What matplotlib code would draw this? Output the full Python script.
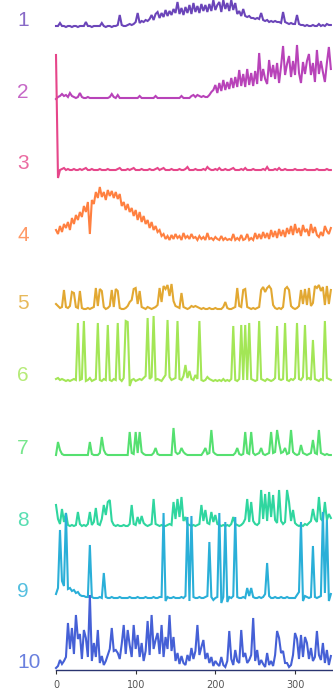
"""Stacked activity traces of ten cells (rows 1-10) over time."""
import numpy as np
import matplotlib
matplotlib.use("Agg")
import matplotlib.pyplot as plt

# ------------------------------------------------------------------ data
# one value every 2.5 time units, starting at t = 0 (heights above baseline)
STEP = 2.5

cell_1 = [1, 1, 4, 1, 1, 0, 1, 1, 0, 1, 1, 0, 1, 1, 1,
          5, 1, 1, 0, 1, 1, 1, 1, 4, 1, 0, 1, 1, 0, 1, 1, 2,
          12, 2, 1, 1, 2, 3, 2, 3, 5, 14, 4, 6, 5, 7, 6,
          8, 12, 7, 13, 15, 9, 14, 10, 17, 11, 16, 12, 18, 14, 25,
          13, 19, 12, 20, 14, 22, 13, 24, 15, 21, 14, 23, 16, 22,
          15, 23, 16, 27, 17, 22, 25, 15, 27, 18, 24, 16, 27, 17, 24,
          13, 16, 11, 18, 11, 10, 11, 9, 9, 8, 9, 8, 14, 7,
          6, 7, 5, 6, 5, 6, 5, 5, 4, 15, 5, 4, 3, 4, 3, 3, 12, 3,
          2, 2, 1, 2, 1, 1, 2, 1, 1, 3, 1, 2, 1, 3, 2, 2]

cell_2 = [0, 2, 3, 5, 3, 4, 2, 6, 3, 2,
          1, 2, 6, 2, 1, 1, 2, 1, 1, 1,
          1, 1, 1, 1, 1, 1, 1, 2, 5, 2,
          1, 4, 1, 1, 1, 1, 1, 1, 1, 1,
          1, 1, 3, 1, 1, 1, 1, 1, 1, 1,
          3, 1, 1, 1, 1, 1, 1, 1, 1, 1,
          1, 1, 1, 3, 1, 1, 1, 1, 3, 4,
          2, 4, 3, 2, 3, 2, 2, 4, 7, 9,
          14, 6, 16, 8, 19, 9, 17, 10, 21, 11,
          22, 12, 29, 13, 25, 12, 30, 14, 26, 13,
          28, 15, 46, 18, 30, 20, 15, 39, 22, 34,
          20, 36, 16, 33, 53, 24, 35, 43, 22, 38,
          24, 54, 26, 16, 37, 25, 38, 45, 24, 36,
          17, 49, 25, 38, 27, 17, 36, 52, 30]

cell_3 = [115, -8, 0, 1, 2, 0, 1, 0, 0, 1,
          0, 0, 1, 0, 1, 2, 0, 0, 1, 0,
          0, 0, 1, 0, 0, 0, 1, 0, 0, 0,
          0, 1, 2, 0, 0, 0, 1, 0, 1, 2,
          0, 0, 0, 1, 0, 0, 0, 1, 0, 0,
          1, 2, 0, 1, 2, 0, 0, 0, 1, 0,
          0, 0, 1, 0, 0, 1, 3, 0, 0, 0,
          1, 0, 0, 0, 1, 0, 3, 1, 0, 0,
          1, 0, 2, 0, 0, 1, 0, 0, 1, 2,
          0, 0, 0, 1, 0, 2, 0, 0, 0, 1,
          0, 0, 0, 0, 1, 0, 3, 0, 0, 0,
          1, 0, 2, 0, 0, 1, 0, 0, 0, 0,
          1, 0, 0, 0, 0, 1, 0, 0, 0, 0,
          0, 1, 0, 0, 0, 0, 1, 0, 0]

cell_4 = [12, 8, 16, 10, 18, 14, 20, 12, 24, 18,
          27, 22, 30, 25, 36, 30, 40, 8, 42, 38,
          50, 44, 55, 45, 50, 42, 52, 46, 51, 44,
          50, 43, 48, 36, 40, 32, 38, 30, 34, 26,
          32, 22, 30, 20, 26, 18, 22, 14, 20, 12,
          16, 10, 12, 6, 8, 3, 6, 2, 7, 3,
          8, 4, 6, 2, 9, 4, 6, 3, 8, 4,
          5, 2, 6, 3, 5, 2, 9, 3, 4, 2,
          5, 3, 2, 6, 2, 4, 2, 3, 2, 8,
          2, 4, 2, 7, 2, 3, 8, 2, 4, 2,
          9, 3, 8, 3, 10, 4, 9, 3, 12, 5,
          11, 4, 13, 6, 12, 5, 14, 8, 16, 7,
          18, 9, 14, 6, 17, 10, 13, 6, 18, 9,
          15, 7, 5, 10, 6, 16, 11, 8, 14]

cell_5 = [6, 4, 2, 3, 20, 3, 2, 4, 18, 17,
          3, 2, 19, 2, 1, 1, 2, 1, 2, 3,
          22, 4, 21, 19, 3, 1, 2, 4, 20, 3,
          21, 19, 2, 1, 1, 2, 4, 8, 10, 21,
          22, 6, 19, 3, 2, 1, 3, 2, 1, 2,
          3, 5, 22, 8, 24, 21, 25, 14, 26, 9,
          4, 3, 2, 17, 3, 2, 1, 2, 4, 3,
          4, 3, 2, 1, 2, 1, 1, 2, 1, 1,
          2, 1, 1, 1, 3, 8, 2, 1, 1, 2,
          3, 22, 4, 3, 20, 21, 3, 2, 1, 2,
          1, 2, 3, 20, 23, 18, 22, 24, 21, 5,
          2, 1, 2, 1, 3, 21, 23, 20, 4, 2,
          1, 2, 4, 20, 6, 21, 5, 22, 4, 7,
          24, 22, 25, 19, 23, 5, 24, 6, 20]

cell_6 = [3, 4, 2, 3, 2, 1, 2, 1, 2, 3,
          2, 59, 2, 3, 61, 1, 2, 4, 1, 2,
          3, 59, 2, 1, 3, 2, 57, 2, 1, 3,
          2, 59, 3, 1, 4, 61, 60, -4, 2, 3,
          1, 2, 3, 2, 4, 6, 64, 3, 5, 66,
          2, 3, 2, 1, 4, 7, 62, 5, 2, 3,
          4, 61, 3, 2, 6, 17, 4, 11, 3, 2,
          7, 3, 61, 2, 1, 2, 5, 3, 2, 1,
          2, 1, 2, 1, 3, 1, 2, 1, 3, 56,
          2, 1, 3, 57, 2, 57, 2, 59, 3, 2,
          1, 2, 61, 3, 2, 1, 3, 2, 1, 2,
          4, 56, 3, 2, 3, 59, 2, 1, 3, 2,
          4, 59, 3, 2, 5, 57, 3, 4, 2, 42,
          3, 2, 1, 3, 2, 61, 4, 3, 2]

cell_7 = [0, 13, 5, 1, 0, 0, 0, 0, 0, 0,
          0, 0, 0, 0, 0, 0, 0, 13, 1, 0,
          0, 0, 2, 18, 5, 1, 0, 0, 0, 0,
          0, 0, 0, 0, 0, 0, 0, 23, 2, 1,
          23, 2, 23, 3, 1, 0, 0, 0, 0, 2,
          7, 1, 0, 0, 0, 0, 0, 0, 0, 27,
          3, 1, 2, 7, 3, 1, 0, 0, 0, 0,
          0, 0, 0, 0, 3, 7, 1, 2, 25, 3,
          1, 0, 0, 0, 0, 0, 0, 0, 0, 0,
          2, 7, 1, 0, 1, 23, 2, 1, 23, 2,
          0, 1, 2, 7, 1, 0, 1, 2, 23, 2,
          3, 25, 12, 2, 3, 7, 1, 2, 25, 3,
          1, 0, 1, 10, 2, 1, 0, 1, 2, 15,
          2, 1, 25, 2, 1, 0, 1, 0, 0]

cell_8 = [22, 8, 3, 18, 5, 14, 2, 1, 2, 1,
          2, 15, 3, 1, 2, 1, 3, 15, 2, 5,
          19, 3, 2, 8, 22, 12, 25, 27, 6, 2,
          1, 2, 1, 1, 2, 1, 1, 3, 22, 3,
          2, 10, 3, 11, 4, 2, 1, 2, 3, 28,
          3, 2, 1, 2, 1, 1, 2, 3, 2, 25,
          8, 28, 10, 30, 6, 10, 3, 2, 1, 2,
          1, 2, 3, 22, 6, 17, 4, 3, 15, 5,
          12, 3, 2, 1, 2, 1, 2, 1, 3, 10,
          3, 2, 1, 2, 4, 8, 28, 5, 25, 6,
          3, 2, 4, 37, 8, 33, 6, 35, 10, 32,
          7, 4, 37, 6, 3, 5, 37, 25, 6, 17,
          4, 2, 1, 2, 1, 3, 2, 4, 6, 18,
          8, 5, 30, 8, 6, 25, 7, 13, 9]

cell_9 = [4, 10, 68, 17, 12, 85, 9, 10, 7, 8,
          5, 6, 3, 2, 2, 1, 1, 53, 1, 0,
          0, 0, 1, 0, 25, 1, 0, 0, 1, 0,
          0, 0, 1, 0, 0, 0, 0, 1, 0, 0,
          0, 1, 0, 0, 0, 1, 0, 0, 0, 1,
          0, 0, 1, 1, 85, -3, 1, 0, 0, 1,
          0, 0, 0, 1, 0, 2, 81, -3, 82, 1,
          0, 0, 1, 0, 0, 1, 2, 56, 1, -2,
          0, 1, 85, -5, 1, 76, -4, 1, 0, 2,
          81, 1, 0, 0, 1, 0, 10, 2, 10, 1,
          0, 0, 1, 0, 1, 4, 35, 2, 0, 0,
          1, 0, 0, 1, 0, 0, 1, 0, 0, 0,
          0, 3, 6, 76, -3, 2, 1, 0, 1, 52,
          1, 0, 1, 2, 86, 5, 78, -3, 4]

cell_10 = [1, 3, 9, 5, 8, 12, 46, 20, 41, 15,
           54, 30, 35, 10, 39, 31, 12, 74, 8, 26,
           12, 39, 6, 13, 4, 8, 14, 20, 41, 18,
           19, 16, 10, 25, 44, 15, 39, 24, 12, 44,
           20, 34, 12, 26, 8, 18, 48, 14, 54, 20,
           29, 36, 15, 44, 12, 32, 20, 54, 18, 32,
           8, 16, 5, 13, 6, 4, 14, 8, 21, 10,
           18, 44, 14, 22, 29, 10, 16, 6, 12, 3,
           8, 5, 3, 12, 4, 2, 8, 38, 10, 4,
           19, 8, 6, 39, 12, 16, 6, 9, 14, 51,
           8, 19, 4, 9, 5, 2, 16, 4, 8, 3,
           14, 38, 31, 16, 18, 6, 6, 2, 4, 14,
           36, 30, 10, 34, 12, 32, 26, 10, 21, 8,
           12, 38, 14, 9, 26, 6, 19, 4, 13]

traces = [cell_1, cell_2, cell_3, cell_4, cell_5,
          cell_6, cell_7, cell_8, cell_9, cell_10]
row_labels = ["1", "2", "3", "4", "5", "6", "7", "8", "9", "10"]
tick_values = [0, 100, 200, 300]

# ---------------------------------------------------------------- styling
colors = ["#6b45b9", "#b843b9", "#e6468a", "#ff8040", "#e2a832",
          "#a3e656", "#55e070", "#2fd69f", "#2aafd8", "#4560d6"]
# baseline of each row, in pixels from the top of the figure
row_base_px = [27, 99, 170, 242, 310, 382, 455, 527, 598, 669]

W, H = 333, 690
AX_BOTTOM_PX = 670            # x-axis line
X0_PX, PX_PER_UNIT = 56, 0.7967

fig = plt.figure(figsize=(W / 100, H / 100), dpi=100)
ax = fig.add_axes([X0_PX / W, (H - AX_BOTTOM_PX) / H,
                   (W - X0_PX) / W, AX_BOTTOM_PX / H])
ax.set_xlim(0, (W - X0_PX) / PX_PER_UNIT)
ax.set_ylim(0, AX_BOTTOM_PX)

for vals, col, base, lab in zip(traces, colors, row_base_px, row_labels):
    vals = np.asarray(vals, dtype=float)
    t = np.arange(len(vals)) * STEP
    ax.plot(t, (AX_BOTTOM_PX - base) + vals, color=col, lw=1.5,
            solid_joinstyle="miter", clip_on=False)
    fig.text(17 / W, 1 - (base - 1) / H, lab, color=col, alpha=0.8,
             fontsize=15, family="Liberation Sans", ha="left",
             va="baseline")

for side in ("top", "right", "left"):
    ax.spines[side].set_visible(False)
ax.spines["bottom"].set_color("#2a3470")
ax.spines["bottom"].set_linewidth(1.0)
ax.set_yticks([])
ax.set_xticks(tick_values)
ax.tick_params(axis="x", length=3, width=0.8, color="#333333",
               labelsize=7, labelcolor="#555555", pad=4)

fig.savefig("out.png", dpi=100)
